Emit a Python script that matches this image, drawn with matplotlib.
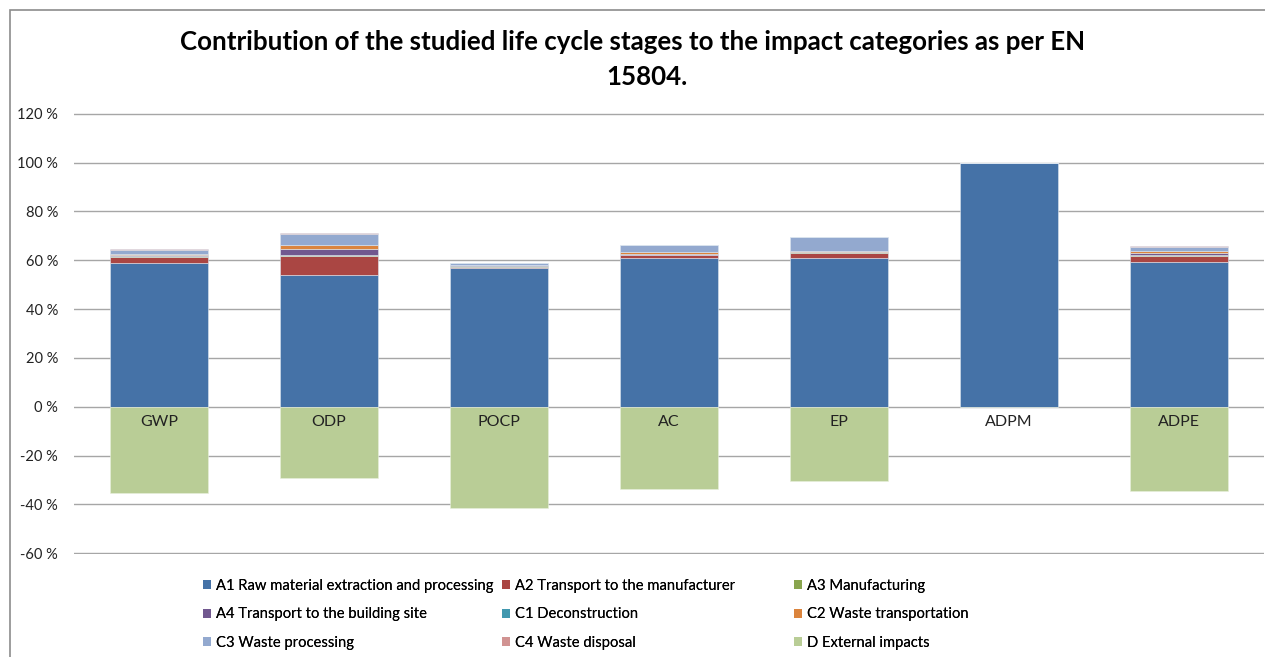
import matplotlib.pyplot as plt
import numpy as np
from matplotlib.patches import Patch, Rectangle

plt.rcParams['font.family'] = ['Lato', 'DejaVu Sans']

categories = ['GWP', 'ODP', 'POCP', 'AC', 'EP', 'ADPM', 'ADPE']

stages = ['A1 Raw material extraction and processing', 'A2 Transport to the manufacturer',
          'A3 Manufacturing', 'A4 Transport to the building site', 'C1 Deconstruction',
          'C2 Waste transportation', 'C3 Waste processing', 'C4 Waste disposal',
          'D External impacts']

a1 = [58.9, 53.9, 56.9, 61.1, 61.1, 99.7, 59.2]
a2 = [2.6, 7.7, 0.4, 0.9, 1.9, 0.0, 2.4]
a3 = [0.2, 0.7, 0.4, 0.2, 0.2, 0.0, 0.6]
a4 = [0.3, 2.2, 0.2, 0.4, 0.3, 0.0, 0.7]
c1 = [0.0, 0.0, 0.0, 0.0, 0.0, 0.0, 0.0]
c2 = [0.5, 1.8, 0.3, 0.6, 0.2, 0.0, 0.8]
c3 = [1.8, 4.6, 0.6, 2.9, 5.7, 0.1, 1.7]
c4 = [0.2, 0.2, 0.1, 0.2, 0.2, 0.2, 0.3]
d = [-35.5, -29.0, -41.6, -33.5, -30.6, 0.0, -34.3]

colors = ['#4572A7', '#AA4643', '#89A54E', '#71588F', '#4198AF',
          '#DB843D', '#93A9CF', '#D19392', '#B9CD96']

fig = plt.figure(figsize=(12.65, 6.57), dpi=100)
ax = fig.add_axes([74 / 1265, 1 - 554 / 657, 1190 / 1265, 441 / 657])

x = np.arange(len(categories))
width = 0.58
bottom = np.zeros(len(categories))
positive = [a1, a2, a3, a4, c1, c2, c3, c4]
for vals, col in zip(positive, colors[:8]):
    ax.bar(x, vals, width, bottom=bottom, color=col, edgecolor='#dde6f0', linewidth=0.4, zorder=3)
    bottom += np.array(vals)
ax.bar(x, d, width, color=colors[8], edgecolor='#e8f0dc', linewidth=0.4, zorder=3)

for i, name in enumerate(categories):
    ax.text(i, -3.5, name, ha='center', va='top', fontsize=11.5, color='#222222', zorder=5)

ax.set_xlim(-0.5, 6.5)
ax.set_ylim(-60.3, 120.3)
ax.set_yticks(np.arange(-60, 121, 20))
ax.set_yticklabels(['%d %%' % v for v in range(-60, 121, 20)], fontsize=10.5, color='#222222')
ax.set_xticks([])
ax.tick_params(axis='y', length=0, pad=11.5)
ax.grid(True, axis='y', color='#a6a6a6', linewidth=1.0, zorder=0)
for s in ax.spines.values():
    s.set_visible(False)

fig.text(0.5, 1 - 42 / 657, 'Contribution of the studied life cycle stages to the impact categories as per EN',
         ha='center', va='center', fontsize=18.6, fontweight='bold')
fig.text(647 / 1265, 1 - 77 / 657, '15804.', ha='center', va='center', fontsize=18.6, fontweight='bold')

# chart border
fig.patches.append(Rectangle((10 / 1265, -0.1), 1.2, 1 - 10 / 657 + 0.1, transform=fig.transFigure,
                             fill=False, edgecolor='#8c8c8c', linewidth=1.2))

handles = [Patch(facecolor=c, edgecolor='none') for c in colors]
col_x = [203, 502, 794]
for k in range(3):
    idx = [k, k + 3, k + 6]
    leg = fig.legend([handles[i] for i in idx], [stages[i] for i in idx],
                     loc='upper left', bbox_to_anchor=(col_x[k] / 1265, 1 - 579 / 657),
                     frameon=False, fontsize=10.6, handlelength=0.55, handleheight=0.55,
                     handletextpad=0.35, labelspacing=0.97, borderaxespad=0, borderpad=0)
    fig.add_artist(leg)

fig.savefig('out.png', dpi=100)
